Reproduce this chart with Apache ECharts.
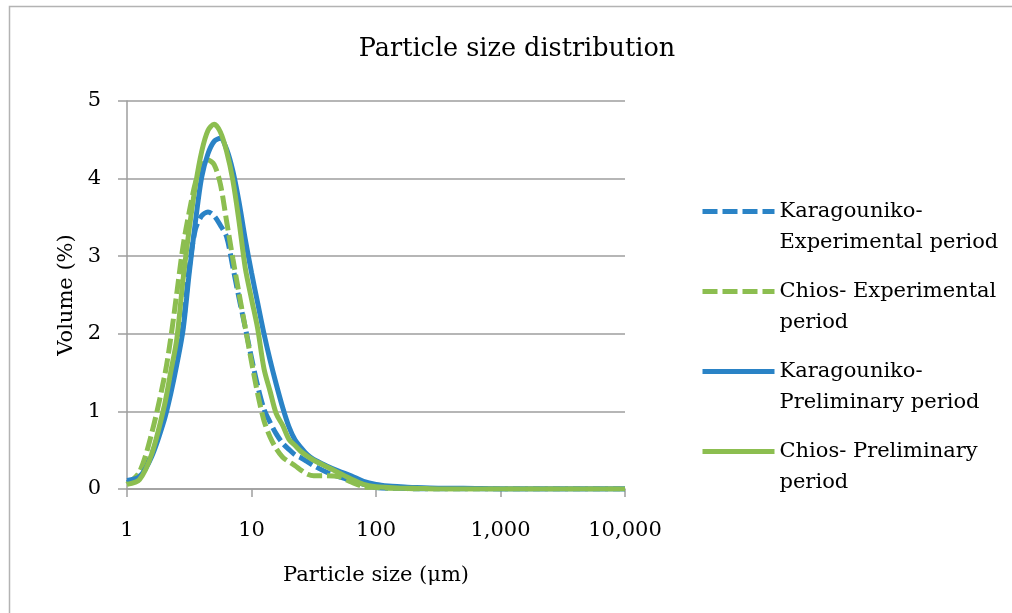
<!DOCTYPE html>
<html><head><meta charset="utf-8">
<script src="https://cdn.jsdelivr.net/npm/echarts@6/dist/echarts.min.js"></script>
<style>html,body{margin:0;padding:0;background:#fff}#c{width:1012px;height:613px}</style>
</head><body><div id="c"></div>
<script>
// Particle size classes (µm)
const sizes = [1, 1.26, 1.58, 2, 2.24, 2.51, 2.82, 3.16, 3.55, 3.98, 4.47, 5.01, 5.62, 6.31, 7.08, 7.94, 8.91, 10, 11.2, 12.6, 14.1, 15.8, 17.8, 20, 22.4, 25.1, 28.2, 31.6, 39.8, 50.1, 63.1, 79.4, 100, 126, 158, 200, 316, 501, 1000, 2000, 5000, 10000];
// Volume (%)
const karagounikoExperimental = [0.08, 0.18, 0.45, 0.98, 1.3, 1.65, 2.1, 2.85, 3.35, 3.52, 3.57, 3.52, 3.4, 3.25, 2.86, 2.46, 2.08, 1.69, 1.33, 1.03, 0.86, 0.71, 0.59, 0.51, 0.44, 0.4, 0.35, 0.3, 0.22, 0.16, 0.11, 0.06, 0.02, 0.01, 0.01, 0, 0, 0, 0, 0, 0, 0];
const chiosExperimental = [0.06, 0.22, 0.72, 1.45, 1.93, 2.52, 3.13, 3.57, 3.95, 4.17, 4.24, 4.18, 3.93, 3.45, 2.97, 2.52, 2.08, 1.64, 1.23, 0.88, 0.67, 0.52, 0.41, 0.35, 0.3, 0.24, 0.19, 0.17, 0.17, 0.16, 0.09, 0.03, 0.02, 0.01, 0.01, 0, 0, 0, 0, 0, 0, 0];
const karagounikoPreliminary = [0.11, 0.16, 0.42, 0.9, 1.22, 1.6, 2.05, 2.78, 3.45, 4.02, 4.32, 4.48, 4.52, 4.38, 4.1, 3.7, 3.22, 2.79, 2.4, 2.0, 1.66, 1.35, 1.05, 0.8, 0.63, 0.53, 0.44, 0.38, 0.3, 0.23, 0.17, 0.1, 0.06, 0.04, 0.03, 0.02, 0.01, 0.01, 0, 0, 0, 0];
const chiosPreliminary = [0.06, 0.12, 0.45, 1.08, 1.5, 1.93, 2.7, 3.35, 3.92, 4.35, 4.62, 4.7, 4.6, 4.35, 3.98, 3.45, 2.85, 2.45, 2.07, 1.55, 1.26, 0.97, 0.82, 0.64, 0.56, 0.48, 0.42, 0.37, 0.29, 0.21, 0.13, 0.06, 0.03, 0.02, 0.01, 0.01, 0, 0, 0, 0, 0, 0];
const seriesNames = ['Karagouniko-\nExperimental period', 'Chios- Experimental\nperiod', 'Karagouniko-\nPreliminary period', 'Chios- Preliminary\nperiod'];
const xTickLabels = ['1', '10', '100', '1,000', '10,000'];

const BLUE = '#2A83C6', GREEN = '#8CBE50';
const FONT = 'DejaVu Serif';
const DASH = [15, 5];
const pts = arr => sizes.map((d, i) => [d, arr[i]]);
const mk = (name, arr, color, dashed) => ({
  name, type: 'line', data: pts(arr), smooth: 0.3, symbol: 'none', showSymbol: false,
  lineStyle: { color, width: 5, type: dashed ? DASH : 'solid' },
  itemStyle: { color }, emphasis: { disabled: true }
});

const chart = echarts.init(document.getElementById('c'), null, { renderer: 'canvas' });
chart.setOption({
  animation: false,
  backgroundColor: '#fff',
  graphic: [{ type: 'rect', shape: { x: 9.5, y: 6.5, width: 1300, height: 900 }, style: { fill: 'none', stroke: '#b3b3b3', lineWidth: 1.5 }, silent: true }],
  title: { text: 'Particle size distribution', left: 517, textAlign: 'center', top: 33, padding: 0,
    textStyle: { fontFamily: FONT, fontSize: 25.5, fontWeight: 'normal', color: '#000', lineHeight: 32 } },
  grid: { left: 127, right: 387, top: 101, bottom: 124, containLabel: false },
  legend: {
    orient: 'vertical', left: 700, top: 165, padding: 0, itemWidth: 72, itemHeight: 14, itemGap: -13,
    itemStyle: { opacity: 0 },
    lineStyle: { width: 5 },
    textStyle: { fontFamily: FONT, fontSize: 21, color: '#000', lineHeight: 31 },
    formatter: name => '\n' + name,
    data: seriesNames
  },
  xAxis: {
    type: 'log', logBase: 10, min: 1, max: 10000,
    axisLine: { show: true, lineStyle: { color: '#9e9e9e', width: 1.5 } },
    axisTick: { show: true, length: 8, lineStyle: { color: '#9e9e9e', width: 1.5 } },
    minorTick: { show: false }, splitLine: { show: false },
    axisLabel: { fontFamily: FONT, fontSize: 21, color: '#000', margin: 31,
      formatter: v => xTickLabels[Math.round(Math.log10(v))] },
    name: 'Particle size (μm)', nameLocation: 'middle', nameGap: 76,
    nameTextStyle: { fontFamily: FONT, fontSize: 21, color: '#000' }
  },
  yAxis: {
    type: 'value', min: 0, max: 5, interval: 1,
    axisLine: { show: true, lineStyle: { color: '#9e9e9e', width: 1.5 } },
    axisTick: { show: true, length: 9, lineStyle: { color: '#9e9e9e', width: 1.5 } },
    splitLine: { show: true, lineStyle: { color: '#9e9e9e', width: 1.5 } },
    axisLabel: { fontFamily: FONT, fontSize: 21, color: '#000', margin: 26 },
    name: 'Volume (%)', nameLocation: 'middle', nameGap: 50, nameRotate: 90,
    nameTextStyle: { fontFamily: FONT, fontSize: 21, color: '#000' }
  },
  series: [
    mk(seriesNames[0], karagounikoExperimental, BLUE, true),
    mk(seriesNames[1], chiosExperimental, GREEN, true),
    mk(seriesNames[2], karagounikoPreliminary, BLUE, false),
    mk(seriesNames[3], chiosPreliminary, GREEN, false)
  ]
});
</script></body></html>
